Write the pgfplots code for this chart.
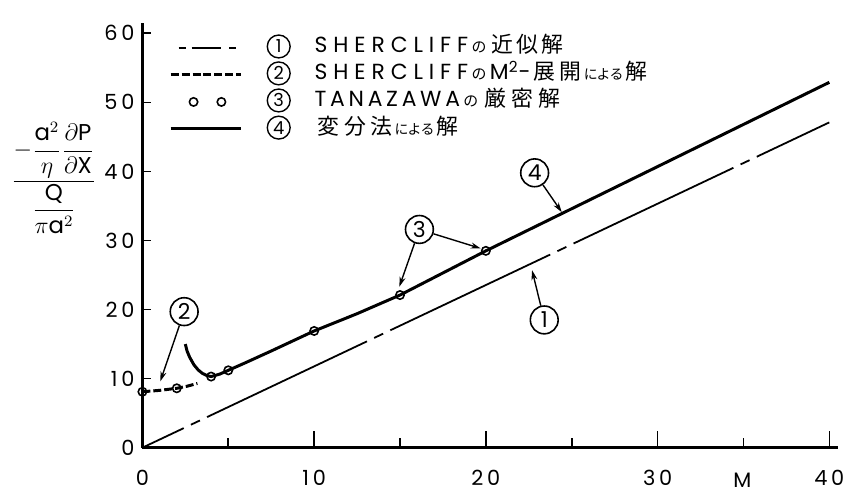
\documentclass[border=0pt]{standalone}
\usepackage{fontspec}
\usepackage{amsmath}
\usepackage{pgfplots}
\pgfplotsset{compat=1.18}
\usetikzlibrary{arrows.meta}
\setmainfont{Poppins}
\newfontfamily\lat[LetterSpace=17]{Poppins}
\newfontfamily\lats[LetterSpace=27]{Poppins}
\newfontfamily\tk[LetterSpace=18]{Poppins}
\newfontfamily\jp{Noto Sans CJK JP}
\makeatletter
\def\kj@a#1{\ifx#1\@nil\else\makebox[\kjp][c]{#1}\expandafter\kj@a\fi}
\newlength\kjp
\newcommand\kanji[2][13.5bp]{{\setlength\kjp{#1}\jp\fontsize{11bp}{11bp}\selectfont\kj@a#2\@nil}}
\newcommand\kana[2][6.5bp]{{\setlength\kjp{#1}\jp\fontsize{7bp}{7bp}\selectfont\kj@a#2\@nil}}
\makeatother
\newcommand\no{{\jp\fontsize{7.5bp}{7bp}\selectfont\makebox[11bp][c]{の}}}
\newcommand\latt[1]{{\lat\fontsize{11bp}{11bp}\selectfont #1}}
\newcommand\shc{{\lats\fontsize{11bp}{11bp}\selectfont SHERCLIFF}}
\newsavebox\cA\newsavebox\cB\newsavebox\cC\newsavebox\cD
\newcommand\mkcirc[2]{\sbox#1{\tikz[baseline=(c.base)]\node[circle,draw,line width=0.7bp,inner sep=0pt,minimum size=11.5bp,font=\fontsize{9bp}{9bp}\selectfont](c){#2};}}
\pgfplotstableread{
M y
0 0
40 47.1
}\serA
\pgfplotstableread{
M y
0 8.1
1 8.3
2 8.6
2.6 8.9
3.2 9.3
}\serB
\pgfplotstableread{
M y
0 8.1
2 8.6
4 10.3
5 11.2
10 16.9
15 22.1
20 28.5
}\serC
\pgfplotstableread{
M y
2.5 15.0
2.6 14.0
2.75 13.1
3.0 12.0
3.25 11.25
3.5 10.75
3.75 10.45
4.0 10.3
4.5 10.65
5 11.2
6 12.3
7.5 14.0
10 16.9
12.5 19.4
15 22.1
20 28.5
25 34.6
30 40.7
35 46.8
40 52.9
}\serD
\begin{document}
\mkcirc\cA{1}\mkcirc\cB{2}\mkcirc\cC{3}\mkcirc\cD{4}
\begin{tikzpicture}
\begin{axis}[
  at={(0,0)}, anchor=south west,
  x=8.64bp, y=3.475bp,
  xmin=0, xmax=40.5, ymin=0, ymax=61.5,
  clip=false,
  axis x line*=bottom, axis y line*=left,
  axis line style={line width=1.2bp},
  xtick={0,10,20,30,40}, minor xtick={5,15,25,35},
  ytick={0,10,20,30,40,50,60},
  tick align=inside,
  major tick length=8.5bp, minor tick length=5bp,
  ytick style={/pgfplots/major tick length=4.5bp},
  tick style={line width=0.8bp, black},
  /pgf/number format/assume math mode=true,
  ticklabel style={font=\tk\fontsize{10.5bp}{11bp}\selectfont},
  xticklabel style={yshift=-8bp},
  yticklabel style={xshift=-0.5bp},
  legend style={at={(axis cs:1.56,59.4)}, anchor=north west, draw=none, fill=none,
    inner sep=0pt, outer sep=0pt, row sep=3.1bp,
    nodes={inner sep=0pt, anchor=west, text height=7.8bp, text depth=2.7bp},
    /tikz/every odd column/.append style={column sep=12bp}},
  legend cell align=left,
]
\addplot[black, line width=0.9bp, dash pattern=on 89bp off 4bp on 5bp off 4bp, dash phase=66bp,
  legend image code/.code={\path (0bp,0bp) (35.5bp,0bp);\draw[black,line width=0.9bp,dash pattern=on 15bp off 4bp on 3.5bp off 3bp] (0bp,0bp) -- (35.5bp,0bp);}]
  table[x=M,y=y]{\serA};
\addlegendentry{\usebox\cA\hspace{12bp}\shc\no\kanji[12.5bp]{近似解}}
\addplot[black, line width=1.5bp, dash pattern=on 4bp off 1.5bp,
  legend image code/.code={\draw[black,line width=1.5bp,dash pattern=on 4bp off 1.5bp] (0bp,0bp) -- (35.5bp,0bp);}]
  table[x=M,y=y]{\serB};
\addlegendentry{\usebox\cB\hspace{12bp}\shc\no\latt{M\textsuperscript{2}-}\kanji{展開}\kana{による}\kanji{解}}
\addplot[forget plot, black, line width=1.5bp] table[x=M,y=y]{\serD};
\addplot[only marks, mark=o, mark size=2.1bp, mark options={fill=white, draw=black, line width=0.8bp},
  legend image code/.code={\path (0bp,0bp) (35.5bp,0bp);\draw plot[only marks, mark=o, mark size=2.1bp, mark options={fill=white, draw=black, line width=0.8bp}] coordinates {(11.5bp,0bp) (25.5bp,0bp)};}]
  table[x=M,y=y]{\serC};
\addlegendentry{\usebox\cC\hspace{12bp}\latt{TANAZAWA}\no\kanji{厳密解}}
\addlegendimage{black, line width=1.5bp, legend image code/.code={\draw[black,line width=1.5bp] (0bp,0bp) -- (35.5bp,0bp);}}
\addlegendentry{\usebox\cD\hspace{12bp}\kanji{変分法}\kana{による}\kanji{解}}
% annotations
\tikzset{cn/.style={circle,draw,line width=0.8bp,inner sep=0pt,minimum size=14bp,font=\fontsize{11bp}{12bp}\selectfont},
  ar/.style={line width=0.7bp,-{Stealth[length=5bp,width=3bp]}}}
\node[cn] (n1) at (axis cs:23.4,18.5) {1};
\node[cn] (n2) at (axis cs:2.43,19.7) {2};
\node[cn] (n3) at (axis cs:16.13,31.6) {3};
\node[cn] (n4) at (axis cs:22.84,39.8) {4};
\draw[ar] (n1) -- (axis cs:22.69,25.7);
\draw[ar] (n2) -- (axis cs:1.04,9.6);
\draw[ar] (n3) -- (axis cs:14.96,23.3);
\draw[ar] (n3) -- (axis cs:19.7,28.85);
\draw[ar] (n4) -- (axis cs:24.42,34.1);
\node[inner sep=0pt, font=\tk\fontsize{10.5bp}{11bp}\selectfont] at (axis cs:34.93,-4.7) {M};
\node[font=\fontsize{11.5bp}{12bp}\selectfont] at (axis cs:-5.15,39.1)
  {$\dfrac{-\dfrac{\text{\lat a}^2}{\eta}\dfrac{\partial\text{\lat P}}{\partial\text{\lat X}}}{\dfrac{\text{\lat Q}}{\pi\text{\lat a}^2}}$};
\end{axis}
\pgfresetboundingbox
\path[use as bounding box] (-69bp,-22.25bp) rectangle (354.5bp,225.25bp);
\end{tikzpicture}
\end{document}
